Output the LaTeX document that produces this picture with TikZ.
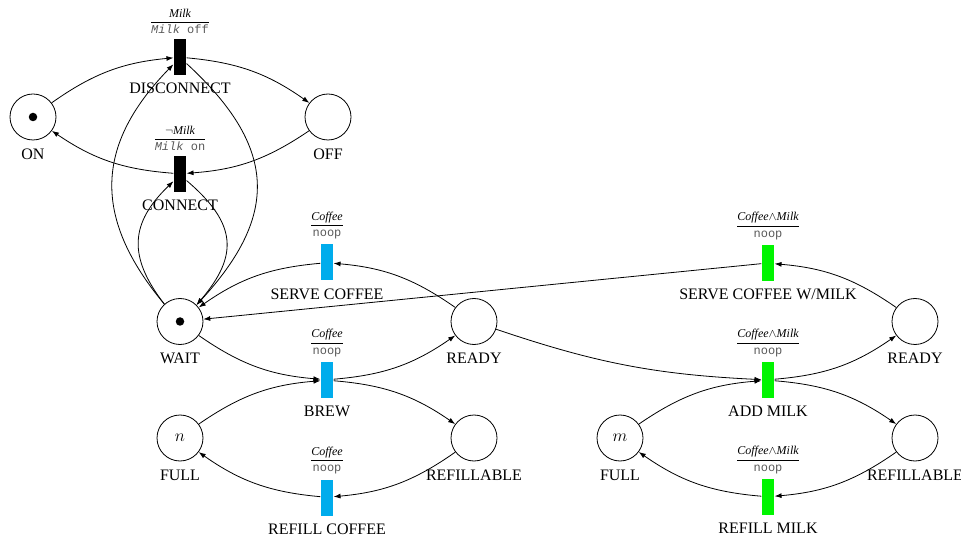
\documentclass[tikz,border=0pt]{standalone}
\usepackage{fontspec}
\setmainfont{Liberation Serif}
\setmonofont{Liberation Mono}
\usetikzlibrary{arrows.meta,positioning}
\definecolor{cyanblue}{RGB}{0,172,236}
\definecolor{brightgreen}{RGB}{0,245,0}
\newcommand{\actn}[1]{\textcolor{black!65}{\texttt{#1}}}
\begin{document}
\begin{tikzpicture}[x=1pt,y=1pt,
  place/.style={circle,draw,line width=0.8pt,minimum size=46pt,inner sep=0pt,font=\fontsize{19}{22}\selectfont},
  trans/.style={rectangle,minimum width=12.7pt,minimum height=36pt,inner sep=0pt},
  blk/.style={trans,fill=black},
  blu/.style={trans,fill=cyanblue},
  grn/.style={trans,fill=brightgreen},
  lbl/.style={font=\fontsize{16}{18}\selectfont,inner sep=0pt},
  grd/.style={font=\fontsize{12}{14}\selectfont,inner sep=0pt},
  arc/.style={draw,line width=0.8pt,-{Latex[length=7pt,width=5pt]}},
  tok/.style={circle,fill=black,minimum size=8.5pt,inner sep=0pt}
]
\useasboundingbox (0,0) rectangle (961,536);

% places
\node[place] (on) at (33,419) {};
\node[tok] (ontok) at (on) {};
\node[lbl,below=8pt of on] (onl) {ON};
\node[place] (off) at (328,419) {};
\node[lbl,below=8pt of off] (offl) {OFF};
\node[place] (wait) at (180,214.5) {};
\node[tok] (waittok) at (wait) {};
\node[lbl,below=8pt of wait] (waitl) {WAIT};
\node[place] (ready1) at (474,214.5) {};
\node[lbl,below=8pt of ready1] (ready1l) {READY};
\node[place] (full1) at (180,98) {$n$};
\node[lbl,below=8pt of full1] (full1l) {FULL};
\node[place] (refl1) at (474,98) {};
\node[lbl,below=8pt of refl1] (refl1l) {REFILLABLE};
\node[place] (ready2) at (915,214.5) {};
\node[lbl,below=8pt of ready2] (ready2l) {READY};
\node[place] (full2) at (620,98) {$m$};
\node[lbl,below=8pt of full2] (full2l) {FULL};
\node[place] (refl2) at (915,98) {};
\node[lbl,below=8pt of refl2] (refl2l) {REFILLABLE};

% transitions
\node[blk] (dis) at (180,479) {};
\node[lbl,below=8pt of dis] (disl) {DISCONNECT};
\node[grd,above=5pt of dis] (disg) {$\displaystyle\frac{\textit{Milk}}{\actn{\textit{Milk} off}}$};
\node[blk] (con) at (180,362) {};
\node[lbl,below=8pt of con] (conl) {CONNECT};
\node[grd,above=5pt of con] (cong) {$\displaystyle\frac{\neg\textit{Milk}}{\actn{\textit{Milk} on}}$};

\node[blu] (serve) at (327,273.5) {};
\node[lbl,below=8pt of serve] (servel) {SERVE COFFEE};
\node[grd,above=5pt of serve] (serveg) {$\displaystyle\frac{\textit{Coffee}}{\actn{noop}}$};
\node[blu] (brew) at (327,156) {};
\node[lbl,below=8pt of brew] (brewl) {BREW};
\node[grd,above=5pt of brew] (brewg) {$\displaystyle\frac{\textit{Coffee}}{\actn{noop}}$};
\node[blu] (rcof) at (327,38.5) {};
\node[lbl,below=8pt of rcof] (rcofl) {REFILL COFFEE};
\node[grd,above=5pt of rcof] (rcofg) {$\displaystyle\frac{\textit{Coffee}}{\actn{noop}}$};

\node[grn] (servem) at (768,273) {};
\node[lbl,below=8pt of servem] (serveml) {SERVE COFFEE W/MILK};
\node[grd,above=5pt of servem] (servemg) {$\displaystyle\frac{\textit{Coffee}\mathord{\wedge}\textit{Milk}}{\actn{noop}}$};
\node[grn] (addm) at (768,156) {};
\node[lbl,below=8pt of addm] (addml) {ADD MILK};
\node[grd,above=5pt of addm] (addmg) {$\displaystyle\frac{\textit{Coffee}\mathord{\wedge}\textit{Milk}}{\actn{noop}}$};
\node[grn] (rmilk) at (768,39) {};
\node[lbl,below=8pt of rmilk] (rmilkl) {REFILL MILK};
\node[grd,above=5pt of rmilk] (rmilkg) {$\displaystyle\frac{\textit{Coffee}\mathord{\wedge}\textit{Milk}}{\actn{noop}}$};

% arcs: milk switch
\draw[arc] (on) to[bend left=15] (dis);
\draw[arc] (dis) to[bend left=15] (off);
\draw[arc] (off) to[bend left=15] (con);
\draw[arc] (con) to[bend left=15] (on);
\draw[arc] (wait) to[bend left=42,looseness=1.2] (dis);
\draw[arc] (dis) to[bend left=45,looseness=1.3] (wait);
\draw[arc] (wait) to[bend left=42,looseness=1.25] (con);
\draw[arc] (con) to[bend left=45,looseness=1.35] (wait);

% coffee
\draw[arc] (wait) to[bend right=15] (brew);
\draw[arc] (brew) to[bend right=15] (ready1);
\draw[arc] (ready1) to[bend right=15] (serve);
\draw[arc] (serve) to[bend right=15] (wait);
\draw[arc] (full1) to[bend left=15] (brew);
\draw[arc] (brew) to[bend left=15] (refl1);
\draw[arc] (refl1) to[bend left=15] (rcof);
\draw[arc] (rcof) to[bend left=15] (full1);

% milk
\draw[arc] (ready1) to[bend right=8] (addm);
\draw[arc] (addm) to[bend right=15] (ready2);
\draw[arc] (ready2) to[bend right=15] (servem);
\draw[arc] (servem) -- (wait);
\draw[arc] (full2) to[bend left=15] (addm);
\draw[arc] (addm) to[bend left=15] (refl2);
\draw[arc] (refl2) to[bend left=15] (rmilk);
\draw[arc] (rmilk) to[bend left=15] (full2);
\end{tikzpicture}
\end{document}
